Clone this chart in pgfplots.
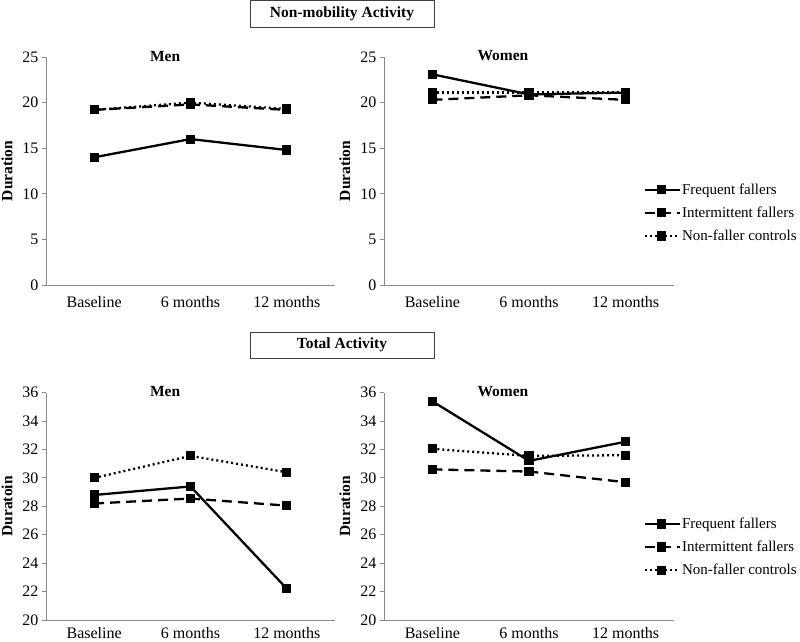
\documentclass[border=0pt]{standalone}
\usepackage{fontspec}
\setmainfont{Liberation Serif}
\usepackage{pgfplots}
\pgfplotsset{compat=1.18}
\definecolor{axgray}{RGB}{140,140,140}
\pgfplotsset{
  panel/.style={
    scale only axis,
    anchor=south west,
    axis lines*=left,
    axis line style={axgray, line width=0.9pt},
    xmin=0.5, xmax=3.5,
    xtick={1,2,3},
    xticklabels={Baseline,6 months,12 months},
    x tick style={draw=none},
    extra x ticks={0.5,1.5,2.5,3.5},
    extra x tick labels={},
    extra x tick style={tick style={draw=axgray, line width=0.9pt}, major tick length=5pt, tick align=outside},
    y tick style={axgray, line width=0.9pt},
    major tick length=4pt,
    tick align=outside,
    tick pos=left,
    tick label style={font=\fontsize{16}{19}\selectfont},
    /pgf/number format/assume math mode=true,
    ylabel style={font=\fontsize{15.5}{18}\selectfont\bfseries, at={(axis description cs:-0.135,0.5)}, anchor=center},
    title style={font=\fontsize{15.5}{18}\selectfont\bfseries, anchor=center},
    legend style={draw=none, fill=none, font=\fontsize{15}{18}\selectfont, anchor=west, row sep=9pt, inner sep=0pt, nodes={inner sep=1pt}},
    legend cell align=left,
    legend image code/.code={\draw[mark repeat=2,mark phase=2,##1] plot coordinates {(0pt,0pt) (17pt,0pt) (35pt,0pt)};},
    every axis plot/.append style={black, line width=2.3pt, mark=square*, mark size=3.4pt, mark options={solid, fill=black}},
  },
  ff/.style={solid},
  inf/.style={dash pattern=on 10pt off 6pt},
  nf/.style={dash pattern=on 2pt off 3pt},
}
\begin{document}
\begin{tikzpicture}
\useasboundingbox (0pt,0pt) rectangle (800pt,642pt);
% Box titles
\node[draw=black!75, line width=0.8pt, minimum width=184pt, minimum height=27pt, inner sep=0pt, font=\fontsize{15.5}{18}\selectfont\bfseries] at (342pt,628.5pt) {Non-mobility Activity};
\node[draw=black!75, line width=0.8pt, minimum width=184pt, minimum height=26pt, inner sep=0pt, font=\fontsize{15.5}{18}\selectfont\bfseries] at (342pt,297pt) {Total Activity};

% Top-left: Men, non-mobility
\begin{axis}[panel, at={(46pt,357pt)}, width=289pt, height=228pt,
  ymin=0, ymax=25, ytick={0,5,...,25},
  xticklabel style={yshift=-4pt},
  ylabel={Duration},
  title={Men}, title style={at={(axis description cs:0.412,0.978)}}]
\addplot[ff] coordinates {(1,14.0) (2,16.0) (3,14.8)};
\addplot[inf] coordinates {(1,19.2) (2,19.8) (3,19.2)};
\addplot[nf] coordinates {(1,19.2) (2,20.0) (3,19.3)};
\end{axis}

% Top-right: Women, non-mobility
\begin{axis}[panel, at={(384pt,357pt)}, width=290pt, height=228pt,
  ymin=0, ymax=25, ytick={0,5,...,25},
  xticklabel style={yshift=-4pt},
  ylabel={Duration},
  title={Women}, title style={at={(axis description cs:0.41,0.978)}},
  legend style={at={(axis description cs:0.895,0.316)}}]
\addplot[ff] coordinates {(1,23.1) (2,20.9) (3,21.1)};
\addplot[inf] coordinates {(1,20.3) (2,20.8) (3,20.3)};
\addplot[nf] coordinates {(1,21.1) (2,21.1) (3,21.1)};
\legend{Frequent fallers, Intermittent fallers, Non-faller controls}
\end{axis}

% Bottom-left: Men, total
\begin{axis}[panel, at={(46pt,22pt)}, width=289pt, height=227.3pt,
  ymin=20, ymax=36, ytick={20,22,...,36},
  ylabel={Duratoin},
  title={Men}, title style={at={(axis description cs:0.412,0.977)}}]
\addplot[ff] coordinates {(1,28.8) (2,29.4) (3,22.2)};
\addplot[inf] coordinates {(1,28.2) (2,28.55) (3,28.05)};
\addplot[nf] coordinates {(1,30.0) (2,31.55) (3,30.4)};
\end{axis}

% Bottom-right: Women, total
\begin{axis}[panel, at={(384pt,22pt)}, width=290pt, height=227.3pt,
  ymin=20, ymax=36, ytick={20,22,...,36},
  ylabel={Duration},
  title={Women}, title style={at={(axis description cs:0.41,0.977)}},
  legend style={at={(axis description cs:0.895,0.321)}}]
\addplot[ff] coordinates {(1,35.4) (2,31.2) (3,32.55)};
\addplot[inf] coordinates {(1,30.6) (2,30.45) (3,29.7)};
\addplot[nf] coordinates {(1,32.05) (2,31.55) (3,31.6)};
\legend{Frequent fallers, Intermittent fallers, Non-faller controls}
\end{axis}
\end{tikzpicture}
\end{document}
